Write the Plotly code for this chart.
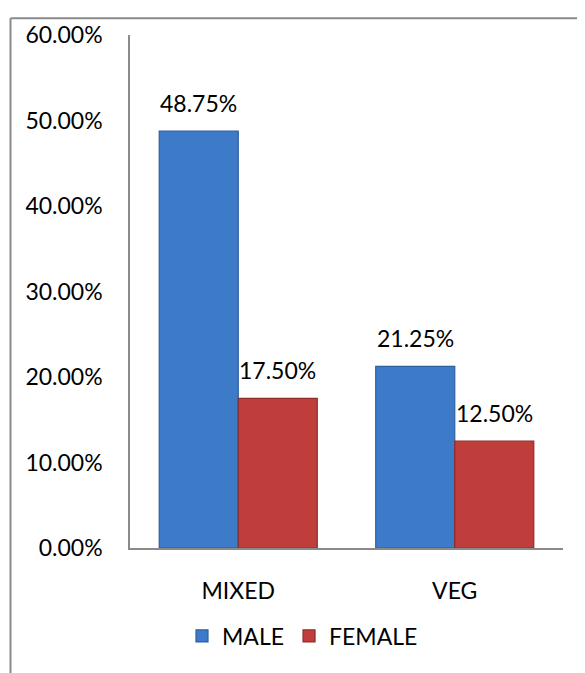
import plotly.graph_objects as go

categories = ["MIXED", "VEG"]
male = [0.4875, 0.2125]
female = [0.1750, 0.1250]
y_ticks = [0.0, 0.1, 0.2, 0.3, 0.4, 0.5, 0.6]
y_tick_labels = ["0.00%", "10.00%", "20.00%", "30.00%", "40.00%", "50.00%", "60.00%"]

FONT = "Lato, Calibri, Carlito, sans-serif"
FS = 23
OFF = 8  # page body offset
W, H = 585, 673
ML, MR, MT, MB = 130 - OFF, 585 - (563 - OFF), 29 - OFF, 673 - (548 - OFF)
PW = W - ML - MR
PH = H - MT - MB

fig = go.Figure()
fig.add_trace(go.Bar(name="MALE", x=categories, y=male,
                     marker=dict(color="#3d7bc9", line=dict(color="#2c5f9e", width=1.2))))
fig.add_trace(go.Bar(name="FEMALE", x=categories, y=female,
                     marker=dict(color="#bf3e3c", line=dict(color="#8e2d2b", width=1.2))))

# data labels via annotations
bar_w_px = PW / 2 * (1 - 0.27) / 2
for vals, sh in ((male, -bar_w_px / 2), (female, bar_w_px / 2)):
    for c, v in zip(categories, vals):
        fig.add_annotation(x=c, y=v, xref="x", yref="y", text=f"{v*100:.2f}%",
                           showarrow=False, yanchor="bottom", xshift=sh, yshift=12,
                           font=dict(family=FONT, size=FS, color="#000000"))

def px_x(p):
    return (p - OFF - ML) / PW

def px_y(p):
    return (H - MB - (p - OFF)) / PH

# outer chart border (left and top visible)
fig.add_shape(type="line", xref="paper", yref="paper",
              x0=px_x(10.5), x1=px_x(10.5), y0=px_y(690), y1=px_y(12),
              line=dict(color="#8a8a8a", width=2))
fig.add_shape(type="line", xref="paper", yref="paper",
              x0=px_x(10.5), x1=px_x(620), y0=px_y(12), y1=px_y(12),
              line=dict(color="#8a8a8a", width=2))

fig.update_layout(
    width=W, height=H,
    margin=dict(l=ML, r=MR, t=MT, b=MB),
    paper_bgcolor="white", plot_bgcolor="white",
    barmode="group", bargap=0.27, bargroupgap=0,
    font=dict(family=FONT, size=FS, color="#000000"),
    showlegend=True,
    legend=dict(orientation="h", x=px_x(182), y=px_y(637), xanchor="left", yanchor="middle",
                font=dict(family=FONT, size=FS), itemwidth=30, tracegroupgap=0),
    xaxis=dict(showline=True, linecolor="#8a8a8a", linewidth=1.5, showgrid=False,
               ticks="outside", ticklen=22, tickcolor="rgba(0,0,0,0)",
               tickfont=dict(family=FONT, size=FS)),
    yaxis=dict(range=[0, 0.6], tickvals=y_ticks, ticktext=y_tick_labels,
               showline=True, linecolor="#8a8a8a", linewidth=1.5, showgrid=False,
               zeroline=False, ticks="outside", ticklen=21, tickcolor="rgba(0,0,0,0)",
               tickfont=dict(family=FONT, size=FS)),
)

fig.write_html("out.html")
